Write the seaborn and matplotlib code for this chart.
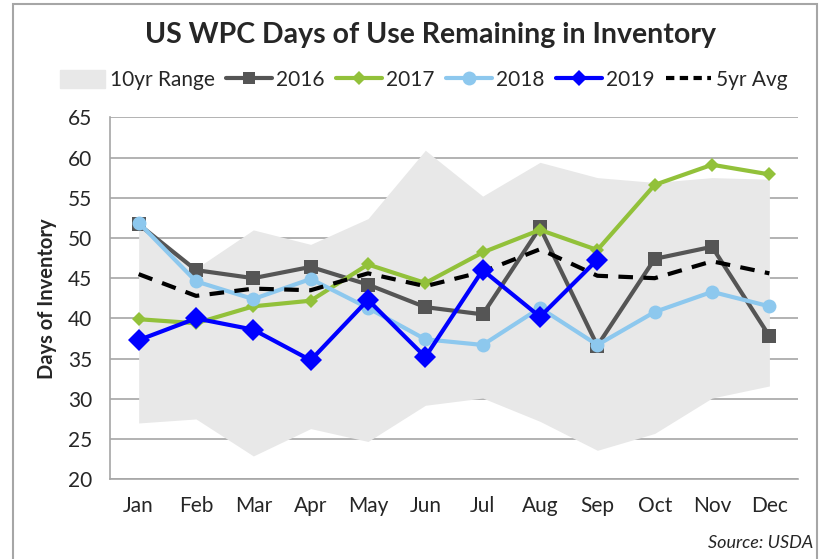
import matplotlib.pyplot as plt
import matplotlib.patches as mpatches
from matplotlib.lines import Line2D
import seaborn as sns
import numpy as np

months = ["Jan", "Feb", "Mar", "Apr", "May", "Jun",
          "Jul", "Aug", "Sep", "Oct", "Nov", "Dec"]

range_high = [51.8, 46.2, 51.0, 49.2, 52.4, 60.9, 55.2, 59.4, 57.5, 56.9, 57.5, 57.3]
range_low = [27.0, 27.5, 22.9, 26.3, 24.7, 29.2, 30.1, 27.2, 23.6, 25.7, 30.1, 31.6]

y2016 = [51.7, 46.0, 45.0, 46.4, 44.2, 41.4, 40.5, 51.3, 36.6, 47.4, 48.9, 37.8]
y2017 = [39.9, 39.4, 41.5, 42.2, 46.7, 44.4, 48.2, 51.0, 48.5, 56.6, 59.1, 57.9]
y2018 = [51.9, 44.6, 42.4, 44.9, 41.3, 37.4, 36.7, 41.3, 36.7, 40.8, 43.3, 41.5]
y2019 = [37.3, 40.0, 38.6, 34.8, 42.3, 35.2, 46.0, 40.2, 47.3]
avg5 = [45.5, 42.8, 43.7, 43.5, 45.6, 44.0, 45.8, 48.6, 45.3, 45.0, 47.1, 45.6]

sns.set_style("white")
plt.rcParams['font.family'] = ['Lato', 'DejaVu Sans']

fig = plt.figure(figsize=(8.27, 5.59), dpi=100)
ax = fig.add_axes([0.133, 0.1426, 0.832, 0.6476])

x = np.arange(len(months))

ax.fill_between(x, range_low, range_high, color="#e8e8e8", lw=0, zorder=1)

series = [
    ("2016", y2016, "#555555", "s", 10, 3),
    ("2017", y2017, "#92c13a", "D", 7, 3),
    ("2018", y2018, "#8dc8ee", "o", 10, 4),
]
for name, vals, col, mk, ms, z in series:
    sns.lineplot(x=x[:len(vals)], y=vals, ax=ax, color=col, lw=3,
                 marker=mk, markersize=ms, markeredgewidth=0, zorder=z)

sns.lineplot(x=x, y=avg5, ax=ax, color="black", lw=3, zorder=5)
ax.lines[-1].set_dashes([3.5, 2.5])

sns.lineplot(x=x[:len(y2019)], y=y2019, ax=ax, color="#0000ff", lw=3,
             marker="D", markersize=11, markeredgewidth=0, zorder=6)

ax.set_xlim(-0.5, 11.5)
ax.set_ylim(20, 65)
ax.set_yticks(np.arange(20, 66, 5))
ax.set_xticks(x)
ax.set_xticklabels(months)
ax.set_xticks(np.arange(-0.5, 12, 1), minor=True)
ax.grid(axis="y", color="#a6a6a6", lw=1.2, zorder=0)
ax.set_axisbelow(True)
ax.tick_params(axis="x", which="major", length=0, pad=12, labelsize=15)
ax.tick_params(axis="x", which="minor", length=7, color="#a6a6a6", width=1.2, direction="out")
ax.tick_params(axis="y", length=7, color="#a6a6a6", width=1.2, direction="out",
               labelsize=15, pad=6)
for s in ["top", "right"]:
    ax.spines[s].set_visible(False)
for s in ["left", "bottom"]:
    ax.spines[s].set_color("#a6a6a6")
    ax.spines[s].set_linewidth(1.2)

ax.set_ylabel("Days of Inventory", fontsize=14.5, fontweight="bold", labelpad=8)
ax.set_xlabel("")

fig.text(0.52, 0.938, "US WPC Days of Use Remaining in Inventory",
         ha="center", va="center", fontsize=20.5, fontweight="bold")
fig.text(0.983, 0.028, "Source: USDA", ha="right", va="center",
         fontsize=13, style="italic")

handles = [
    mpatches.Patch(color="#e8e8e8", label="10yr Range"),
    Line2D([], [], color="#555555", lw=3, marker="s", ms=9, mew=0, label="2016"),
    Line2D([], [], color="#92c13a", lw=3, marker="D", ms=7, mew=0, label="2017"),
    Line2D([], [], color="#8dc8ee", lw=3, marker="o", ms=10, mew=0, label="2018"),
    Line2D([], [], color="#0000ff", lw=3, marker="D", ms=8, mew=0, label="2019"),
    Line2D([], [], color="black", lw=3, ls=(0, (2, 1.3)), label="5yr Avg"),
]
fig.legend(handles=handles, loc="center", bbox_to_anchor=(0.512, 0.857), ncol=6,
           frameon=False, fontsize=15, handlelength=2.2, handletextpad=0.2,
           columnspacing=0.55, handleheight=1.0)

border = mpatches.Rectangle((13 / 827, -0.05), (817 - 13) / 827, 1 - 4 / 559 + 0.05,
                            transform=fig.transFigure, fill=False,
                            edgecolor="#a6a6a6", lw=1.5)
fig.patches.append(border)

fig.savefig("out.png", dpi=100)
